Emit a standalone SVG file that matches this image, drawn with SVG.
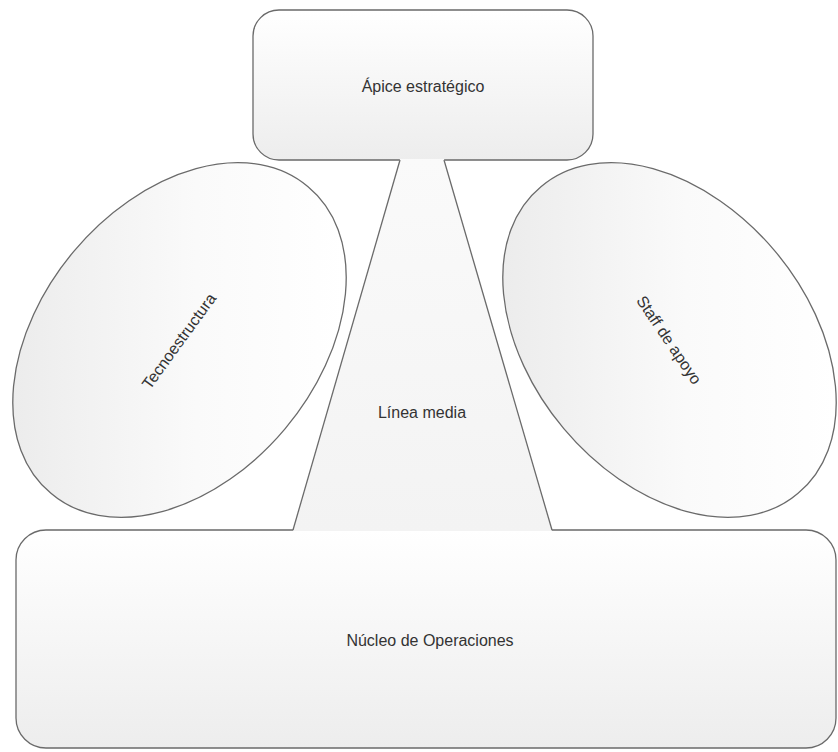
<svg xmlns="http://www.w3.org/2000/svg" width="838" height="752" viewBox="0 0 838 752">
  <defs>
    <linearGradient id="gradBox" x1="0" y1="0" x2="0" y2="1">
      <stop offset="0" stop-color="#ffffff"/>
      <stop offset="1" stop-color="#ededed"/>
    </linearGradient>
    <linearGradient id="gradOval" x1="0" y1="0" x2="1" y2="0">
      <stop offset="0" stop-color="#ececec"/>
      <stop offset="0.55" stop-color="#fafafa"/>
      <stop offset="1" stop-color="#ffffff"/>
    </linearGradient>
    <linearGradient id="gradMid" x1="0" y1="0" x2="0" y2="1">
      <stop offset="0" stop-color="#fafafa"/>
      <stop offset="1" stop-color="#f3f3f3"/>
    </linearGradient>
  </defs>
  <style>
    .shape { stroke: #6a6a6a; stroke-width: 1.3; }
    .edge { stroke: #6a6a6a; stroke-width: 1.3; fill: none; }
    .label { font-family: "Liberation Sans", Arial, sans-serif; font-size: 16px; fill: #333333; text-anchor: middle; dominant-baseline: central; }
  </style>

  <rect width="838" height="752" fill="#ffffff"/>

  <!-- Strategic apex -->
  <g id="apice">
    <rect class="shape" x="253" y="10" width="340" height="150" rx="26" ry="26" fill="url(#gradBox)"/>
    <text class="label" x="423" y="86">Ápice estratégico</text>
  </g>

  <!-- Operating core -->
  <g id="nucleo">
    <rect class="shape" x="16" y="530" width="820" height="218" rx="30" ry="30" fill="url(#gradBox)"/>
    <text class="label" x="430" y="640">Núcleo de Operaciones</text>
  </g>

  <!-- Technostructure -->
  <g id="tecnoestructura">
    <path class="shape" fill="url(#gradOval)" d="M308.06,186.8 A200,137 -50 1,1 50.94,493.2 A200,137 -50 1,1 308.06,186.8 Z"/>
    <text class="label" x="179" y="341" transform="rotate(-54 179 341)">Tecnoestructura</text>
  </g>

  <!-- Support staff -->
  <g id="staff">
    <path class="shape" fill="url(#gradOval)" d="M540.94,186.8 A200,137 50 1,1 798.06,493.2 A200,137 50 1,1 540.94,186.8 Z"/>
    <text class="label" x="669" y="340" transform="rotate(56 669 340)">Staff de apoyo</text>
  </g>

  <!-- Middle line: trapezoid joining apex and operating core -->
  <g id="linea-media">
    <polygon points="400,159 444,159 552,531 293,531" fill="url(#gradMid)"/>
    <line class="edge" x1="400" y1="160" x2="293" y2="530"/>
    <line class="edge" x1="444" y1="160" x2="552" y2="530"/>
    <text class="label" x="422" y="412">Línea media</text>
  </g>
</svg>
